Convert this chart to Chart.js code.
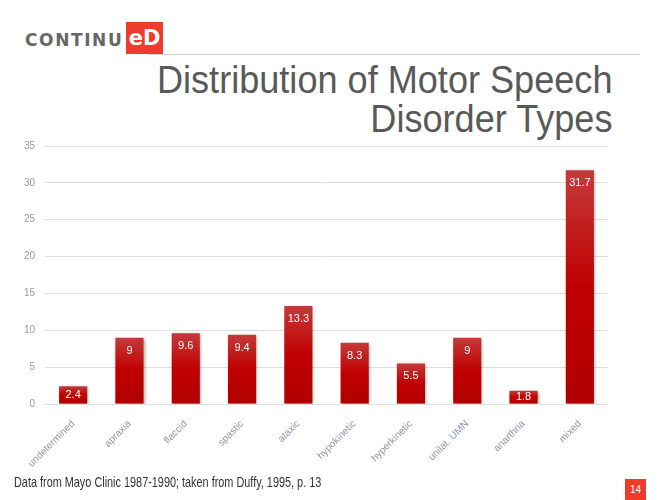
<!DOCTYPE html>
<html>
<head>
<meta charset="utf-8">
<script src="https://cdn.jsdelivr.net/npm/chart.js@4/dist/chart.umd.min.js"></script>
<style>
  html, body { margin: 0; padding: 0; background: #fff; }
  body { width: 666px; height: 500px; position: relative; overflow: hidden; font-family: "Liberation Sans", Arial, sans-serif; }
  #logo { position: absolute; left: 25px; top: 22px; height: 32px; }
  #logo .txt { position: absolute; left: 0; top: 8px; font: bold 17px "DejaVu Sans", sans-serif; color: #666; letter-spacing: 1.6px; white-space: nowrap; }
  #logo .ed { position: absolute; left: 101px; top: 0; width: 37px; height: 32px; background: #ee3b2b; color: #fff; font: bold 21px "DejaVu Sans", sans-serif; text-align: center; line-height: 32px; }
  #rule { position: absolute; left: 148px; top: 54px; width: 492px; height: 1px; background: #cfcfcf; }
  #title { position: absolute; right: 54px; top: 61px; text-align: right; font-size: 38px; line-height: 39px; color: #595959; transform: scaleX(0.95); transform-origin: right; white-space: nowrap; }
  #chartBox { position: absolute; left: 0; top: 130px; width: 620px; height: 345px; }
  #note { position: absolute; left: 14px; top: 474px; font-size: 14.5px; color: #333; white-space: nowrap; transform: scaleX(0.75); transform-origin: left; }
  #page { position: absolute; left: 625px; top: 479px; width: 21px; height: 21px; background: #ef3b28; color: #fff; font-size: 10px; line-height: 21px; text-align: center; }
</style>
</head>
<body>
<div id="logo"><span class="txt">CONTINU</span><span class="ed">eD</span></div>
<div id="rule"></div>
<div id="title">Distribution of Motor Speech<br>Disorder Types</div>
<div id="chartBox"><canvas id="chart"></canvas></div>
<div id="note">Data from Mayo Clinic 1987-1990; taken from Duffy, 1995, p. 13</div>
<div id="page">14</div>

<script>
// ================= DATA =================
const categories = ['undetermined', 'apraxia', 'flaccid', 'spastic', 'ataxic',
  'hypokinetic', 'hyperkinetic', 'unilat. UMN', 'anarthria', 'mixed'];
const percents = [2.4, 9, 9.6, 9.4, 13.3, 8.3, 5.5, 9, 1.8, 31.7];
const yMax = 35;
const yStep = 5;

// per-bar vertical gradient, lighter on top
function barFill(c) {
  const chart = c.chart;
  const y = chart.scales && chart.scales.y;
  if (!y || y.top === undefined || c.raw === undefined) return '#c00000';
  const top = y.getPixelForValue(c.raw);
  const base = y.getPixelForValue(0);
  if (!isFinite(top) || !isFinite(base) || base - top < 1) return '#c00000';
  const g = chart.ctx.createLinearGradient(0, top, 0, base);
  g.addColorStop(0, '#c43a3a');
  g.addColorStop(0.5, '#c00000');
  g.addColorStop(1, '#b00000');
  return g;
}

// ================= PLUGINS =================
const barShadow = {
  id: 'barShadow',
  beforeDatasetsDraw(chart) {
    const ctx = chart.ctx;
    ctx.save();
    ctx.shadowColor = 'rgba(0,0,0,0.35)';
    ctx.shadowBlur = 3;
    ctx.shadowOffsetX = 1;
    ctx.shadowOffsetY = 1;
  },
  afterDatasetsDraw(chart) {
    chart.ctx.restore();
  }
};

const valueLabels = {
  id: 'valueLabels',
  afterDatasetsDraw(chart) {
    const ctx = chart.ctx;
    const meta = chart.getDatasetMeta(0);
    ctx.save();
    ctx.fillStyle = '#fff';
    ctx.font = '11px "Liberation Sans", Arial, sans-serif';
    ctx.textAlign = 'center';
    ctx.textBaseline = 'middle';
    meta.data.forEach((bar, i) => {
      const mid = (bar.y + bar.base) / 2;
      const y = Math.max(Math.min(bar.y + 13, mid), bar.y);
      ctx.fillText(String(percents[i]), bar.x, y);
    });
    ctx.restore();
  }
};

// ================= CHART =================
new Chart(document.getElementById('chart'), {
  type: 'bar',
  data: {
    labels: categories,
    datasets: [{
      data: percents,
      backgroundColor: barFill,
      borderWidth: 0,
      categoryPercentage: 1,
      barPercentage: 0.5
    }]
  },
  options: {
    responsive: true,
    maintainAspectRatio: false,
    animation: false,
    events: [],
    layout: { padding: { top: 14, right: 12, left: 0, bottom: 0 } },
    plugins: {
      legend: { display: false },
      tooltip: { enabled: false }
    },
    scales: {
      y: {
        min: 0,
        max: yMax,
        ticks: {
          stepSize: yStep,
          color: '#9a9a9a',
          font: { size: 10, family: '"Liberation Sans", Arial, sans-serif' },
          padding: 10
        },
        grid: { color: '#dedede', drawTicks: false },
        border: { display: false },
        afterFit(scale) { scale.width = 45; }
      },
      x: {
        ticks: {
          color: '#8e95a5',
          font: { size: 10, family: '"Liberation Sans", Arial, sans-serif' },
          minRotation: 45,
          maxRotation: 45,
          padding: 6,
          autoSkip: false
        },
        grid: { display: false },
        border: { display: false },
        afterFit(scale) { scale.height = 71; }
      }
    }
  },
  plugins: [barShadow, valueLabels]
});
</script>
</body>
</html>
